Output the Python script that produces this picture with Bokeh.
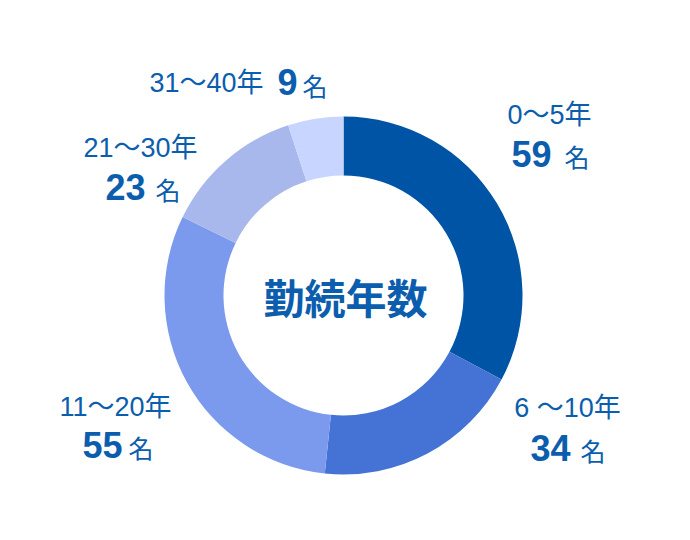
import math
from bokeh.plotting import figure
from bokeh.models import Range1d, ColumnDataSource
from bokeh.core.properties import value
from bokeh.embed import file_html
from bokeh.resources import INLINE

# ---- data ----
categories = ["0～5年", "6 ～10年", "11～20年", "21～30年", "31～40年"]
counts = [59, 34, 55, 23, 9]
unit = "名"
center_title = "勤続年数"
colors = ["#0054a6", "#4573d5", "#7b9aee", "#a8b8ec", "#c8d5fe"]

# ---- layout (screen pixels in a 690x540 page) ----
H = 540
cx, cy = 343, 295
r_out, r_in = 179, 120

def Y(sy):
    return H - sy

total = sum(counts)
starts, ends = [], []
acc = 0
for c in counts:
    starts.append(math.pi / 2 - 2 * math.pi * acc / total)
    acc += c
    ends.append(math.pi / 2 - 2 * math.pi * acc / total)

p = figure(width=674, height=524, output_backend="svg", toolbar_location=None,
           x_range=Range1d(0, 674), y_range=Range1d(16, 540), min_border=0)
p.axis.visible = False
p.grid.visible = False
p.outline_line_color = None
p.background_fill_color = "white"

src = ColumnDataSource(dict(x=[cx] * len(counts), y=[Y(cy)] * len(counts),
                            s=starts, e=ends, c=colors))
p.annular_wedge(x="x", y="y", inner_radius=r_in, outer_radius=r_out,
                start_angle="s", end_angle="e", direction="clock",
                fill_color="c", line_color=None, source=src)

txt = "#0b5dad"
lat = value("'Liberation Sans', 'Noto Sans CJK JP'")
cjk = value("Noto Sans CJK JP")

# label anchors
cat_pos = [(549, 114), (567, 407), (115, 406), (140, 147)]
num_right = [(551, 153), (570, 447), (122, 444), (145, 186)]
unit_left = [(564, 155), (580, 449), (128, 446), (155, 188)]

for i in range(4):
    x, y = cat_pos[i]
    p.text(x=[x], y=[Y(y)], text=[categories[i]], text_font=lat,
           text_font_size="27px", text_color=txt, text_align="center",
           text_baseline="middle")
    nx, ny = num_right[i]
    p.text(x=[nx], y=[Y(ny)], text=[str(counts[i])], text_font=lat,
           text_font_size="36px", text_font_style="bold", text_color=txt,
           text_align="right", text_baseline="middle")
    ux, uy = unit_left[i]
    p.text(x=[ux], y=[Y(uy)], text=[unit], text_font=cjk,
           text_font_size="25px", text_color=txt, text_align="left",
           text_baseline="middle")

# 31~40 label on a single line
p.text(x=[263], y=[Y(82)], text=[categories[4]], text_font=lat,
       text_font_size="27px", text_color=txt, text_align="right",
       text_baseline="middle")
p.text(x=[297], y=[Y(81)], text=[str(counts[4])], text_font=lat,
       text_font_size="36px", text_font_style="bold", text_color=txt,
       text_align="right", text_baseline="middle")
p.text(x=[302], y=[Y(84)], text=[unit], text_font=cjk,
       text_font_size="25px", text_color=txt, text_align="left",
       text_baseline="middle")

p.text(x=[cx + 2], y=[Y(cy)], text=[center_title], text_font=cjk,
       text_font_size="41px", text_font_style="bold", text_color=txt,
       text_align="center", text_baseline="middle")

open("out.html", "w").write(file_html(p, INLINE))
